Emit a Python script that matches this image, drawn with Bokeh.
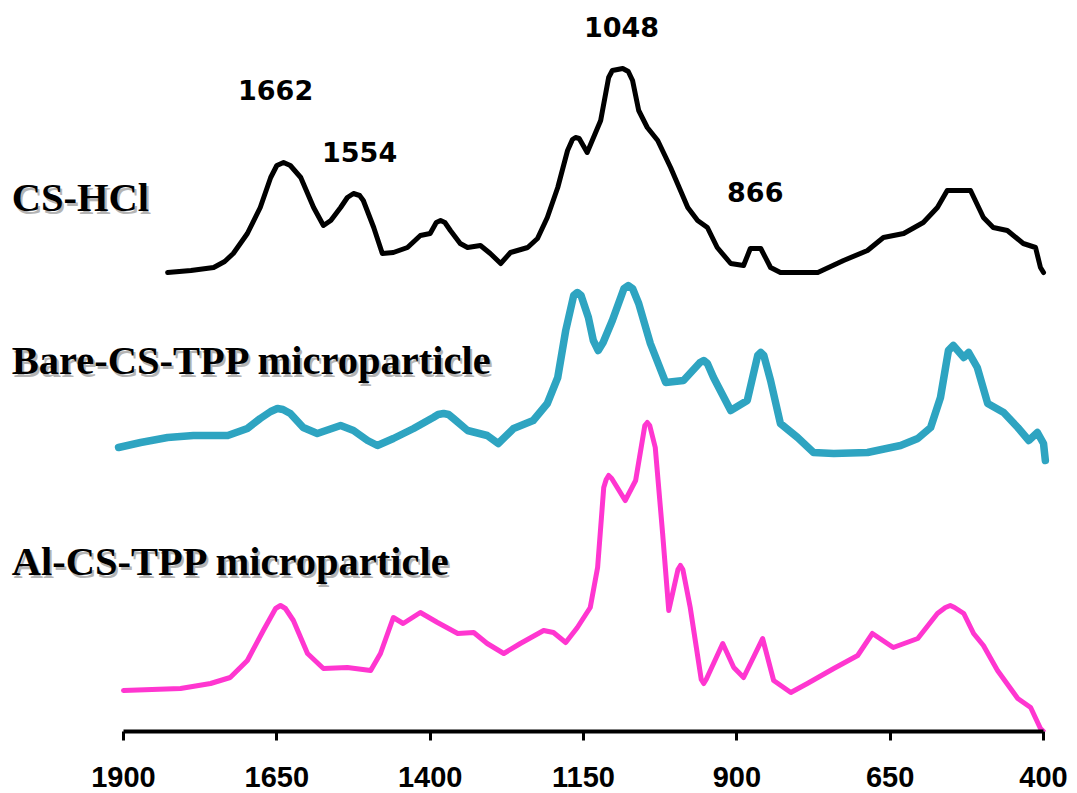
from bokeh.plotting import figure
from bokeh.models import Range1d, FixedTicker, ColumnDataSource
from bokeh.core.properties import value
from bokeh.embed import file_html
from bokeh.resources import INLINE

# FTIR spectra (wavenumber in cm-1, absorbance in arbitrary stacked units)
wn_hcl = [1828, 1790, 1753, 1735, 1721, 1698, 1677, 1660, 1650, 1639, 1628, 1611, 1590, 1574,
          1562, 1546, 1535, 1525, 1515, 1509, 1492, 1478, 1460, 1437, 1416, 1400, 1390, 1383,
          1376, 1367, 1351, 1339, 1318, 1302, 1285, 1269, 1241, 1225, 1209, 1192, 1176, 1168,
          1163, 1157, 1144, 1122, 1109, 1103, 1086, 1077, 1070, 1060, 1046, 1029, 1008, 980,
          964, 948, 932, 910, 889, 878, 861, 845, 829, 768, 726, 687, 661, 628, 596, 573,
          557, 519, 498, 482, 459, 433, 413, 405, 400]
abs_hcl = [463, 465, 468, 474, 482, 502, 528, 558, 570, 573, 570, 558, 528, 510,
           515, 528, 538, 542, 540, 535, 508, 482, 483, 488, 500, 502, 513, 515,
           513, 505, 492, 488, 490, 482, 472, 483, 488, 497, 518, 548, 585, 596,
           598, 597, 583, 615, 658, 665, 667, 664, 655, 625, 608, 595, 568, 528,
           515, 508, 488, 472, 470, 487, 487, 468, 463, 463, 475, 485, 498, 502, 513, 528,
           545, 545, 518, 508, 505, 492, 488, 468, 463]

wn_bare = [1908, 1872, 1828, 1786, 1730, 1698, 1677, 1660, 1649, 1640, 1628, 1607, 1584, 1546,
           1525, 1502, 1486, 1460, 1427, 1395, 1387, 1378, 1370, 1362, 1339, 1307, 1289, 1264,
           1232, 1209, 1192, 1179, 1166, 1160, 1154, 1142, 1134, 1126, 1118, 1103, 1084, 1077,
           1070, 1060, 1041, 1016, 987, 960, 954, 948, 938, 910, 883, 866, 861, 856, 845,
           829, 801, 775, 742, 687, 633, 605, 584, 568, 555, 547, 530, 522, 508, 491, 465, 442,
           424, 410, 400, 397]
abs_bare = [288, 293, 298, 300, 300, 307, 317, 324, 327, 326, 322, 308, 302, 310,
            305, 295, 290, 297, 307, 318, 321, 322, 321, 317, 305, 300, 292, 307,
            315, 332, 358, 405, 440, 443, 440, 418, 395, 385, 393, 415, 447, 450,
            447, 432, 392, 353, 355, 373, 375, 372, 358, 325, 335, 380, 383, 380, 355,
            312, 298, 283, 282, 283, 290, 297, 308, 338, 385, 390, 378, 383, 368, 332, 323, 308,
            295, 303, 292, 275]

wn_al = [1900, 1807, 1758, 1726, 1698, 1672, 1652, 1644, 1636, 1623, 1600, 1574, 1535, 1497,
         1481, 1460, 1444, 1416, 1388, 1355, 1329, 1307, 1280, 1253, 1215, 1199, 1179, 1160,
         1139, 1127, 1117, 1113, 1109, 1104, 1082, 1065, 1050, 1046, 1042, 1033, 1021, 1011,
         996, 992, 988, 976, 958, 954, 950, 923, 905, 889, 858, 840, 812, 785, 742, 703, 679,
         645, 605, 573, 560, 552, 545, 530, 514, 498, 475, 442, 421, 405, 400]
abs_al = [45, 47, 52, 58, 75, 105, 127, 130, 127, 115, 82, 67, 68, 65,
          82, 118, 112, 123, 113, 102, 103, 92, 82, 92, 105, 103, 93, 108,
          128, 168, 248, 256, 260, 257, 235, 255, 310, 313, 310, 288, 202, 125,
          166, 170, 166, 128, 56, 52, 56, 92, 68, 58, 97, 55, 43, 52, 67, 80, 102,
          88, 97, 122, 128, 130, 128, 122, 102, 90, 65, 37, 28, 7, 4]

tick_values = [1900, 1650, 1400, 1150, 900, 650, 400]

# Peak assignments written above the CS-HCl spectrum
peak_text = ["1662", "1554", "1048", "866"]
peak_x = [1652, 1515, 1088, 870]
peak_y = [646, 584, 709, 544]

# Sample names
sample_text = ["CS-HCl", "Bare-CS-TPP microparticle", "Al-CS-TPP microparticle"]
sample_x = [2082, 2082, 2082]
sample_y = [538, 375, 174]

p = figure(frame_width=1077, frame_height=731,
           x_range=Range1d(2100.5, 344.6), y_range=Range1d(4, 735),
           y_axis_location=None, output_backend="svg", toolbar_location=None,
           min_border_left=0, min_border_right=0, min_border_top=0, min_border_bottom=62)
p.grid.visible = False
p.outline_line_color = None
p.background_fill_color = "white"
p.border_fill_color = "white"

p.line(wn_hcl, abs_hcl, line_color="#000000", line_width=5, line_join="round", line_cap="round")
p.line(wn_bare, abs_bare, line_color="#2ea4c1", line_width=7.5, line_join="round", line_cap="round")
p.line(wn_al, abs_al, line_color="#ff36d0", line_width=5, line_join="round", line_cap="round")

ax = p.xaxis[0]
ax.ticker = FixedTicker(ticks=tick_values)
ax.bounds = (400, 1900)
ax.axis_line_width = 4
ax.axis_line_color = "black"
ax.major_tick_line_width = 3
ax.major_tick_line_color = "black"
ax.major_tick_in = 0
ax.major_tick_out = 9
ax.minor_tick_line_color = None
ax.major_label_text_font = "Liberation Sans"
ax.major_label_text_font_style = "bold"
ax.major_label_text_font_size = "29px"
ax.major_label_text_color = "black"
ax.major_label_standoff = 26

peaks = ColumnDataSource(dict(x=peak_x, y=peak_y, t=peak_text))
p.text(x="x", y="y", text="t", source=peaks, text_font=value("DejaVu Sans"),
       text_font_style="bold", text_font_size="27px", text_align="center",
       text_baseline="alphabetic", text_color="black")

# soft grey drop shadow under the sample names
shadow = ColumnDataSource(dict(x=[v - 3.3 for v in sample_x], y=[v - 2.5 for v in sample_y], t=sample_text))
p.text(x="x", y="y", text="t", source=shadow, text_font=value("Liberation Serif"),
       text_font_style="bold", text_font_size="40.5px", text_align="left",
       text_baseline="alphabetic", text_color="#b4b4b4")
names = ColumnDataSource(dict(x=sample_x, y=sample_y, t=sample_text))
p.text(x="x", y="y", text="t", source=names, text_font=value("Liberation Serif"),
       text_font_style="bold", text_font_size="40.5px", text_align="left",
       text_baseline="alphabetic", text_color="black")

open("out.html", "w").write(file_html(p, INLINE))
